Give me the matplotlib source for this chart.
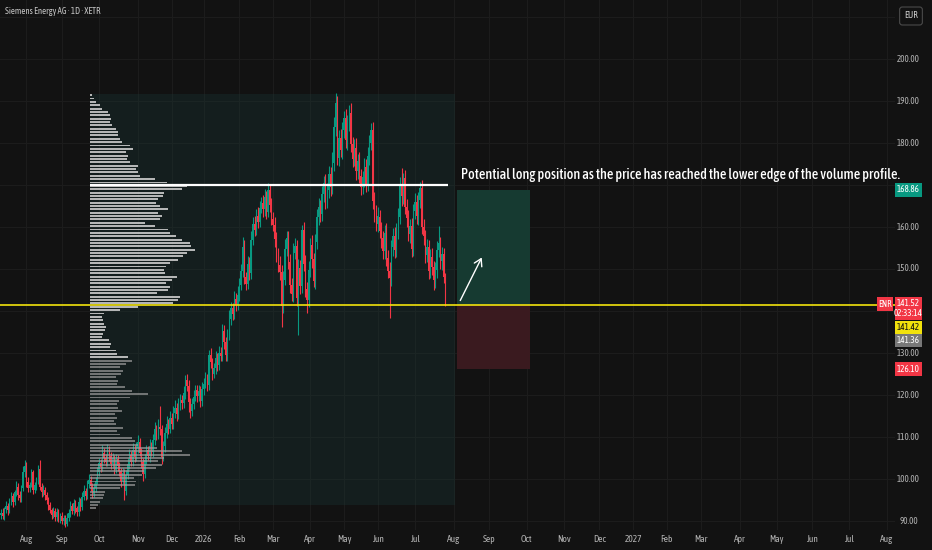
import matplotlib
matplotlib.use('Agg')
import matplotlib.pyplot as plt
import numpy as np
import pandas as pd
from matplotlib.patches import Rectangle, FancyArrowPatch
import matplotlib.transforms as mtransforms

BG = '#121212'
UP = '#089981'
DN = '#f23645'
GRID = '#1c1c1c'
TXT = '#b4b4b4'
FONT = ['Asap Condensed', 'DejaVu Sans']

# ---------------- data ----------------
start_date = '2025-07-11'
holidays = ['2025-12-24', '2025-12-25', '2025-12-26', '2025-12-31', '2026-01-01',
            '2026-04-03', '2026-04-06', '2026-05-01',
            '2026-12-24', '2026-12-25', '2026-12-31', '2027-01-01']

first_open = 91.4
closes = [
    92.0, 91.2, 92.8, 93.5, 92.6, 94.8, 95.9, 94.5, 96.8, 98.2,
    96.1, 95.4, 97.9, 101.6, 103.2, 99.4, 97.8, 98.6, 101.6, 97.5,
    98.5, 99.6, 102.3, 98.2, 96.8, 97.5, 96.1, 95.0, 93.8, 92.6,
    91.5, 92.4, 91.0, 92.1, 90.6, 91.3, 89.9, 90.7, 89.4, 90.8,
    92.0, 93.6, 92.4, 94.2, 93.0, 92.1, 94.5, 93.4, 95.8, 97.1,
    96.0, 98.7, 99.8, 98.3, 96.4, 97.9, 99.5, 101.6, 103.8, 102.9,
    106.2, 105.1, 104.0, 106.8, 105.5, 103.6, 104.9, 102.2, 104.7, 103.1,
    101.8, 99.6, 101.4, 97.2, 100.9, 103.5, 105.8, 104.1, 106.9, 105.2,
    107.4, 108.9, 106.3, 104.1, 101.2, 104.6, 106.8, 105.4, 107.9, 106.5,
    109.2, 111.8, 110.6, 112.4, 111.9, 105.3, 107.8, 110.9, 113.2, 112.0,
    114.6, 113.1, 115.8, 116.9, 115.4, 117.6, 118.8, 118.1, 120.4, 123.6,
    122.1, 118.3, 116.2, 117.9, 119.5, 121.3, 119.8, 120.9, 118.6, 121.4,
    122.7, 123.9, 122.4, 129.6, 127.8, 125.1, 126.4, 128.7, 127.2, 130.1,
    129.4, 135.2, 132.6, 129.5, 134.1, 138.2, 140.6, 139.3, 142.8, 141.5,
    143.8, 146.2, 149.5, 155.3, 148.1, 146.5, 151.2, 149.0, 156.9, 160.8,
    159.4, 162.7, 161.3, 164.5, 165.8, 164.2, 167.1, 163.6, 168.9, 165.2,
    162.0, 160.4, 157.1, 153.2, 151.0, 149.4, 141.2, 147.5, 154.8, 157.3,
    151.6, 146.3, 144.0, 153.8, 155.4, 143.0, 150.3, 146.0, 159.2, 151.3,
    145.2, 142.6, 149.8, 155.7, 152.3, 147.2, 156.4, 162.5, 164.8, 163.1,
    167.9, 170.4, 166.3, 168.8, 172.6, 169.5, 175.2, 183.9, 189.6, 176.5,
    181.3, 178.4, 183.1, 185.9, 180.6, 184.7, 187.2, 179.8, 176.3, 178.9,
    173.4, 175.8, 172.1, 169.6, 171.8, 174.3, 170.2, 176.8, 180.1, 183.2,
    166.2, 163.4, 160.8, 162.5, 159.1, 157.3, 154.2, 158.6, 152.7, 149.6,
    147.8, 155.3, 157.9, 154.6, 159.2, 162.4, 169.8, 167.3, 171.6, 164.8,
    162.1, 158.4, 160.3, 154.7, 163.8, 165.9, 162.6, 166.4, 169.2, 160.1,
    157.8, 153.4, 155.2, 149.6, 152.9, 150.4, 147.3, 149.8, 154.6, 156.2,
    151.8, 153.6, 148.2, 141.52,
]
wick_up = [
    0.8, 1.0, 0.6, 1.2, 0.9, 0.7, 1.1, 0.8, 0.6, 1.3,
    0.9, 1.1, 0.7, 1.4, 1.3, 0.8, 1.0, 0.6, 0.9, 0.5,
    0.7, 0.9, 1.1, 2.3, 0.8, 1.0, 0.6, 0.9, 0.7, 0.8,
    0.6, 0.9, 0.7, 1.0, 0.8, 0.6, 0.9, 0.7, 0.8, 1.1,
    0.9, 1.2, 0.7, 1.0, 0.8, 0.6, 1.3, 0.9, 1.1, 1.4,
    0.8, 1.0, 1.5, 0.9, 0.7, 1.2, 1.0, 1.3, 1.1, 0.9,
    2.0, 1.1, 0.8, 1.6, 1.0, 0.9, 1.4, 0.8, 1.2, 1.0,
    0.9, 0.8, 1.3, 1.0, 1.2, 1.5, 1.4, 0.9, 1.6, 1.1,
    1.3, 1.5, 0.9, 1.0, 0.8, 1.4, 1.2, 1.0, 1.6, 0.9,
    1.5, 1.8, 1.1, 1.9, 5.1, 1.0, 1.3, 1.6, 1.8, 1.2,
    1.6, 1.2, 1.5, 1.9, 1.1, 1.7, 1.4, 1.2, 1.8, 1.2,
    1.3, 1.5, 1.0, 1.4, 1.6, 1.2, 1.1, 1.5, 1.3, 1.7,
    1.4, 1.6, 1.0, 1.2, 1.5, 1.1, 1.3, 1.8, 1.2, 1.6,
    1.3, 1.8, 1.5, 1.1, 1.7, 2.0, 1.6, 1.4, 1.9, 1.5,
    2.1, 1.6, 1.8, 2.4, 1.5, 1.3, 1.9, 1.6, 2.2, 1.7,
    1.9, 1.5, 2.0, 1.6, 1.4, 1.8, 1.9, 1.5, 1.6, 1.3,
    1.8, 1.5, 2.0, 1.7, 1.9, 2.2, 1.6, 2.1, 2.4, 1.8,
    1.7, 2.0, 1.5, 2.3, 1.9, 1.6, 2.2, 1.8, 1.3, 1.9,
    2.1, 1.7, 2.0, 1.8, 2.3, 1.6, 2.0, 1.9, 2.1, 1.7,
    1.9, 1.8, 2.2, 1.6, 2.0, 1.7, 2.6, 2.3, 2.4, 1.5,
    1.8, 2.1, 1.9, 1.7, 2.2, 2.0, 1.8, 2.4, 1.6, 2.0,
    2.2, 1.7, 2.0, 1.8, 1.6, 2.1, 1.9, 2.3, 1.7, 1.6,
    1.9, 2.1, 1.8, 2.2, 1.6, 2.0, 1.7, 1.9, 2.3, 1.8,
    2.0, 1.6, 1.9, 2.1, 1.7, 2.2, 2.0, 4.2, 1.2, 1.9,
    1.8, 2.0, 1.6, 1.9, 1.7, 2.2, 1.8, 1.9, 1.5, 2.1,
    1.9, 1.6, 2.0, 1.7, 1.8, 2.1, 1.5, 1.9, 2.0, 4.0,
    1.5, 1.6, 1.3, 0.9,
]
wick_dn = [
    0.9, 0.7, 1.0, 0.8, 1.1, 0.6, 0.9, 1.2, 0.7, 0.8,
    1.0, 0.8, 0.9, 0.7, 1.1, 1.3, 0.9, 0.8, 0.6, 1.0,
    0.8, 1.0, 0.7, 0.9, 1.2, 0.8, 1.0, 0.9, 1.1, 0.8,
    1.0, 0.7, 0.9, 1.1, 0.8, 1.0, 0.7, 0.9, 0.8, 0.6,
    0.8, 1.0, 0.7, 0.9, 1.1, 0.8, 0.9, 1.0, 0.7, 0.9,
    1.0, 0.8, 0.9, 1.2, 1.0, 0.7, 0.9, 0.8, 1.0, 1.3,
    0.9, 1.2, 1.0, 0.8, 1.1, 1.3, 0.9, 1.0, 0.8, 1.2,
    1.1, 1.5, 0.9, 2.2, 1.0, 0.8, 1.2, 1.0, 0.9, 1.1,
    1.0, 1.2, 0.9, 1.4, 1.6, 1.0, 1.1, 0.9, 1.3, 1.0,
    1.2, 1.0, 1.4, 1.1, 1.5, 1.8, 1.0, 1.3, 1.1, 1.4,
    1.0, 1.3, 1.1, 1.2, 1.5, 1.0, 1.2, 1.4, 1.1, 1.3,
    1.2, 2.4, 1.6, 1.1, 1.3, 1.0, 1.4, 1.2, 1.5, 1.1,
    1.3, 1.0, 1.5, 1.2, 1.4, 1.6, 1.1, 1.3, 1.5, 1.2,
    1.4, 1.2, 1.6, 1.5, 1.3, 1.1, 1.5, 1.4, 1.2, 1.6,
    1.3, 1.5, 1.2, 1.4, 1.7, 1.5, 1.3, 1.6, 1.4, 1.2,
    1.5, 1.3, 1.6, 1.4, 1.2, 1.7, 1.5, 1.8, 1.3, 1.6,
    1.6, 1.4, 1.8, 1.5, 1.7, 1.9, 5.0, 1.6, 1.4, 1.8,
    1.7, 1.9, 1.6, 1.8, 1.5, 1.7, 8.8, 1.9, 1.6, 1.8,
    1.9, 3.1, 1.7, 1.8, 2.0, 1.6, 1.9, 1.7, 2.1, 1.8,
    1.6, 1.9, 2.1, 1.7, 1.8, 2.0, 1.6, 1.9, 2.2, 1.8,
    2.0, 1.8, 2.1, 1.9, 1.7, 2.2, 1.8, 2.0, 1.9, 1.7,
    2.1, 1.9, 1.7, 2.0, 1.8, 2.2, 1.9, 1.6, 2.0, 1.8,
    1.9, 2.1, 1.8, 2.0, 1.7, 2.2, 1.9, 1.8, 2.1, 1.7,
    9.5, 1.8, 2.1, 1.9, 1.7, 2.0, 1.8, 2.2, 1.9, 1.7,
    2.0, 1.8, 2.1, 1.9, 1.7, 2.0, 1.8, 2.1, 1.9, 1.7,
    2.1, 1.9, 1.8, 2.0, 1.7, 1.9, 2.2, 1.8, 1.9, 1.7,
    1.8, 2.0, 1.6, 0.4,
]

profile_start = 93.0
profile_step = 0.8
profile_widths = [
    6, 8, 10, 13, 14, 15, 30, 45, 46, 44,
    52, 54, 66, 72, 68, 74, 100, 92, 67, 48,
    45, 42, 30, 27, 33, 26, 24, 27, 25, 32,
    28, 27, 29, 40, 58, 42, 35, 27, 28, 26,
    31, 33, 30, 36, 42, 38, 27, 26, 20, 21,
    19, 12, 13, 15, 16, 14, 13, 12, 14, 30,
    48, 83, 88, 90, 67, 78, 80, 76, 82, 87,
    75, 74, 76, 80, 88, 93, 97, 105, 101, 100,
    92, 86, 80, 78, 65, 55, 70, 72, 68, 78,
    70, 66, 68, 73, 74, 92, 97, 77, 65, 50,
    48, 46, 48, 40, 37, 38, 36, 43, 40, 32,
    30, 28, 28, 26, 22, 20, 21, 20, 18, 12,
    10, 6, 4, 2,
]
value_area = (129.0, 192.0)

poc_price = 170.0
last_price = 141.52
target_price = 168.86
stop_price = 126.10
bid_label, ask_label = '141.42', '141.36'
countdown = '02:33:14'
symbol = 'ENR'
currency = 'EUR'
note = 'Potential long position as the price has reached the lower edge of the volume profile.'
title = 'Siemens Energy AG \u00b7 1D \u00b7 XETR'
price_ticks = [90, 100, 110, 120, 130, 150, 160, 180, 190, 200]

# ---------------- geometry helpers ----------------
W, H = 932, 550
PX_PER_BAR = 1.69
X0 = 1.0            # pixel of bar 0
Y90, PX_PER_EUR = 521.0, 4.2
AX_RIGHT, AX_BOTTOM = 895, 530

def bar_of_px(px):
    return (px - X0) / PX_PER_BAR

def price_of_py(py):
    return 90 + (Y90 - py) / PX_PER_EUR

def py_of_price(p):
    return Y90 - (p - 90) * PX_PER_EUR

fig = plt.figure(figsize=(W / 100, H / 100), dpi=100, facecolor=BG)
ax = fig.add_axes([0, (H - AX_BOTTOM) / H, AX_RIGHT / W, AX_BOTTOM / H])
ax.set_facecolor(BG)
ax.set_xlim(bar_of_px(0), bar_of_px(AX_RIGHT))
ax.set_ylim(price_of_py(AX_BOTTOM), price_of_py(0))
for s in ax.spines.values():
    s.set_visible(False)
ax.set_xticks([]); ax.set_yticks([])
renderer = fig.canvas.get_renderer()

def fit(t, target_px):
    w = t.get_window_extent(renderer).width
    t.set_fontsize(t.get_fontsize() * target_px / w)
    return t.get_fontsize()

# dates / month ticks
days = pd.bdate_range(start_date, '2027-09-30', freq='C', holidays=holidays)
months = pd.Series(np.arange(len(days)), index=days)
tick_idx, tick_lab = [], []
for (yr, mo), grp in months.groupby([days.year, days.month]):
    i = int(grp.iloc[0])
    if bar_of_px(15) < i < bar_of_px(AX_RIGHT - 5):
        tick_idx.append(i)
        tick_lab.append(str(yr) if mo == 1 else days[i].strftime('%b'))

# grid
for p in range(90, 211, 10):
    ax.axhline(p, color=GRID, lw=0.8, zorder=0)
for i in tick_idx:
    ax.axvline(i, color=GRID, lw=0.8, zorder=0)

# volume profile background
prof_left = bar_of_px(90)
prof_right = bar_of_px(455)
ax.add_patch(Rectangle((prof_left, price_of_py(505)), prof_right - prof_left,
                       price_of_py(94) - price_of_py(505), fc='#1a3a38', alpha=0.32,
                       ec='none', zorder=1))

# candles
c = np.array(closes)
o = np.concatenate([[first_open], c[:-1]])
hi = np.maximum(o, c) + np.array(wick_up)
lo = np.minimum(o, c) - np.array(wick_dn)
idx = np.arange(len(c))
cols = np.where(c >= o, UP, DN)
ax.vlines(idx, lo, hi, colors=cols, lw=0.8, zorder=3)
ax.bar(idx, np.maximum(np.abs(c - o), 0.15), bottom=np.minimum(o, c), width=0.75,
       color=cols, lw=0, zorder=3)

# volume profile bars
pw = np.array(profile_widths, dtype=float)
pp = profile_start + profile_step * np.arange(len(pw))
in_va = (pp >= value_area[0]) & (pp <= value_area[1])
ax.barh(pp[in_va], pw[in_va] / PX_PER_BAR, left=prof_left, height=0.45,
        color='#d2d2d2', alpha=0.85, lw=0, zorder=4)
ax.barh(pp[~in_va], pw[~in_va] / PX_PER_BAR, left=prof_left, height=0.45,
        color='#9a9a9a', alpha=0.7, lw=0, zorder=4)

# POC / horizontal lines
ax.hlines(poc_price, prof_left, bar_of_px(448), color='white', lw=1.6, zorder=5)
ax.axhline(last_price, color='#f2e20c', lw=1.2, zorder=6)

# long position tool
bx0, bx1 = bar_of_px(457), bar_of_px(530)
ax.add_patch(Rectangle((bx0, last_price), bx1 - bx0, target_price - last_price,
                       fc='#163a31', ec='none', zorder=2))
ax.add_patch(Rectangle((bx0, stop_price), bx1 - bx0, last_price - stop_price,
                       fc='#3a1a1f', ec='none', zorder=2))
arr = FancyArrowPatch((bar_of_px(459), price_of_py(303)), (bar_of_px(483), price_of_py(255)),
                      arrowstyle='->,head_length=5,head_width=3', color='white', lw=1.0,
                      mutation_scale=1, zorder=7)
ax.add_patch(arr)

tn = ax.text(bar_of_px(461), price_of_py(175), note, color='white', fontsize=10.5,
             va='center', ha='left', clip_on=False, zorder=8, family=FONT, fontweight='medium')
fit(tn, 440)

# title
tt = fig.text(5 / W, 1 - 12 / H, title, color='#c8c8c8', fontsize=7, va='center', ha='left',
              family=FONT)
fit(tt, 96)

# bottom labels
probe = fig.text(0, 0, 'Aug', fontsize=7, family=FONT)
fs_x = fit(probe, 13)
probe.remove()
for i, lab in zip(tick_idx, tick_lab):
    xpx = X0 + i * PX_PER_BAR
    fig.text(xpx / W, 1 - 540 / H, lab, color=TXT, fontsize=fs_x, ha='center', va='center',
             family=FONT)

# right price axis
XLAB = 908.5
probe = fig.text(0, 0, '160.00', fontsize=7, family=FONT)
fs_y = fit(probe, 23)
probe.remove()
for p in price_ticks:
    fig.text(XLAB / W, 1 - py_of_price(p) / H, f'{p:.2f}', color=TXT, fontsize=fs_y,
             ha='center', va='center', family=FONT)

def tag(y0, y1, s, fc, tc='white', x0=895, x1=922):
    fig.patches.append(Rectangle((x0 / W, 1 - y1 / H), (x1 - x0) / W, (y1 - y0) / H,
                                 transform=fig.transFigure, fc=fc, ec='none', zorder=5))
    fig.text((x0 + x1) / 2 / W, 1 - (y0 + y1) / 2 / H, s, color=tc, fontsize=fs_y,
             ha='center', va='center', family=FONT, linespacing=1.15, zorder=6)

yt = py_of_price(target_price)
yl = py_of_price(last_price)
ys = py_of_price(stop_price)
tag(yt - 7, yt + 7, f'{target_price:.2f}', UP)
tag(yl - 7.5, yl + 15.5, f'{last_price:.2f}\n{countdown}', DN)
tag(yl + 16.5, yl + 29.5, bid_label, '#f2e20c', tc='#111111')
tag(yl + 29.5, yl + 42.5, ask_label, '#787878')
tag(ys - 7, ys + 7, f'{stop_price:.2f}', DN)
tag(yl - 7.5, yl + 6.5, symbol, DN, x0=877, x1=893)

fig.text(911 / W, 1 - 16 / H, currency, color='#d0d0d0', fontsize=fs_y, ha='center',
         va='center', family=FONT,
         bbox=dict(boxstyle='round,pad=0.5,rounding_size=0.3', fc=BG, ec='#4a4a4a', lw=0.8))

fig.savefig('out.png', dpi=100, facecolor=BG)
